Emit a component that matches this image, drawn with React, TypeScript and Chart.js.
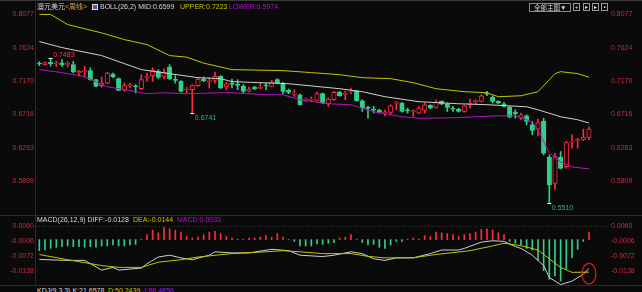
import React, { useEffect, useRef } from "react";
import { Chart, registerables } from "chart.js";
Chart.register(...registerables);

// ---------- DATA ----------
const OPEN = [
  0.7412, 0.7389, 0.7426, 0.7403, 0.7417, 0.7398, 0.7394, 0.7280, 0.7298, 0.7312,
  0.7189, 0.7107, 0.7143, 0.7266, 0.7203, 0.7052, 0.7107, 0.7103, 0.7066, 0.7216,
  0.7244, 0.7303, 0.7225, 0.7362, 0.7194, 0.7166, 0.7048, 0.7052, 0.7107, 0.7198,
  0.7162, 0.7180, 0.7235, 0.7089, 0.7134, 0.7125, 0.7098, 0.7030, 0.7084, 0.7071,
  0.7112, 0.7098, 0.7189, 0.7143, 0.7043, 0.6993, 0.6984, 0.6911, 0.6911, 0.6907,
  0.6998, 0.6861, 0.6916, 0.7016, 0.6989, 0.7025, 0.7030, 0.6902, 0.6806, 0.6784,
  0.6770, 0.6738, 0.6743, 0.6870, 0.6870, 0.6775, 0.6752, 0.6734, 0.6770, 0.6838,
  0.6811, 0.6893, 0.6857, 0.6797, 0.6788, 0.6756, 0.6852, 0.6889, 0.6893, 0.7002,
  0.6952, 0.6893, 0.6861, 0.6816, 0.6743, 0.6665, 0.6697, 0.6574, 0.6515, 0.6620,
  0.6133, 0.5777, 0.6133, 0.6005, 0.6338, 0.6360, 0.6369, 0.6401,
];
const HIGH = [
  0.7435, 0.7430, 0.7483, 0.7440, 0.7462, 0.7435, 0.7440, 0.7317, 0.7371, 0.7349,
  0.7198, 0.7225, 0.7289, 0.7280, 0.7212, 0.7143, 0.7143, 0.7121, 0.7257, 0.7280,
  0.7349, 0.7326, 0.7335, 0.7394, 0.7244, 0.7175, 0.7084, 0.7121, 0.7212, 0.7225,
  0.7212, 0.7294, 0.7244, 0.7153, 0.7198, 0.7189, 0.7121, 0.7089, 0.7098, 0.7143,
  0.7143, 0.7180, 0.7203, 0.7153, 0.7062, 0.7052, 0.6993, 0.6939, 0.6952, 0.7016,
  0.7007, 0.6939, 0.7030, 0.7030, 0.7030, 0.7075, 0.7043, 0.6916, 0.6825, 0.6825,
  0.6788, 0.6779, 0.6848, 0.6893, 0.6879, 0.6802, 0.6779, 0.6825, 0.6870, 0.6848,
  0.6916, 0.6902, 0.6870, 0.6825, 0.6802, 0.6843, 0.6925, 0.6916, 0.6984, 0.7030,
  0.6970, 0.6902, 0.6879, 0.6825, 0.6779, 0.6734, 0.6711, 0.6620, 0.6652, 0.6665,
  0.6164, 0.6187, 0.6210, 0.6347, 0.6438, 0.6392, 0.6515, 0.6542,
];
const LOW = [
  0.7380, 0.7385, 0.7371, 0.7367, 0.7371, 0.7362, 0.7280, 0.7235, 0.7225, 0.7180,
  0.7089, 0.7084, 0.7134, 0.7216, 0.7039, 0.7030, 0.7075, 0.7007, 0.7052, 0.7166,
  0.7166, 0.7203, 0.7198, 0.7189, 0.7143, 0.7021, 0.7007, 0.6741, 0.7098, 0.7162,
  0.7075, 0.7143, 0.7066, 0.7052, 0.7075, 0.7052, 0.7007, 0.7021, 0.7052, 0.7062,
  0.7052, 0.7089, 0.7134, 0.6998, 0.6998, 0.6961, 0.6843, 0.6893, 0.6889, 0.6898,
  0.6861, 0.6825, 0.6907, 0.6961, 0.6916, 0.6998, 0.6893, 0.6756, 0.6665, 0.6734,
  0.6734, 0.6697, 0.6711, 0.6779, 0.6747, 0.6734, 0.6688, 0.6725, 0.6734, 0.6793,
  0.6802, 0.6848, 0.6756, 0.6756, 0.6747, 0.6747, 0.6802, 0.6861, 0.6884, 0.6970,
  0.6870, 0.6861, 0.6816, 0.6670, 0.6665, 0.6643, 0.6574, 0.6438, 0.6424, 0.6164,
  0.5510, 0.5695, 0.5973, 0.5982, 0.6256, 0.6256, 0.6360, 0.6369,
];
const CLOSE = [
  0.7403, 0.7421, 0.7408, 0.7412, 0.7389, 0.7408, 0.7294, 0.7303, 0.7307, 0.7189,
  0.7098, 0.7143, 0.7280, 0.7225, 0.7043, 0.7107, 0.7116, 0.7093, 0.7189, 0.7225,
  0.7317, 0.7221, 0.7289, 0.7198, 0.7180, 0.7030, 0.7057, 0.7107, 0.7198, 0.7171,
  0.7175, 0.7235, 0.7075, 0.7134, 0.7125, 0.7112, 0.7030, 0.7062, 0.7062, 0.7080,
  0.7103, 0.7157, 0.7143, 0.7030, 0.7016, 0.7002, 0.6848, 0.6920, 0.6920, 0.6998,
  0.6870, 0.6925, 0.7016, 0.6970, 0.6998, 0.7034, 0.6902, 0.6802, 0.6797, 0.6775,
  0.6743, 0.6747, 0.6834, 0.6879, 0.6756, 0.6766, 0.6761, 0.6802, 0.6848, 0.6802,
  0.6884, 0.6857, 0.6811, 0.6788, 0.6756, 0.6834, 0.6861, 0.6898, 0.6970, 0.6993,
  0.6893, 0.6870, 0.6825, 0.6679, 0.6725, 0.6711, 0.6620, 0.6497, 0.6606, 0.6187,
  0.5755, 0.6142, 0.5982, 0.6333, 0.6351, 0.6374, 0.6406, 0.6515,
];

// Bollinger bands: [candle index, value]
const BOLL_UPPER: [number, number][] = [
  [0, 0.8077], [2, 0.8077], [5, 0.7940], [11, 0.7826], [15, 0.7735], [19, 0.7667],
  [23, 0.7517], [26, 0.7496], [29, 0.7414], [34, 0.7326], [43, 0.7312], [48, 0.7285],
  [53, 0.7257], [57, 0.7216], [62, 0.7203], [66, 0.7148], [70, 0.7066], [75, 0.7025],
  [79, 0.7011], [81, 0.6957], [85, 0.6970], [88, 0.7025], [90, 0.7189], [91, 0.7271],
  [92, 0.7298], [95, 0.7271], [97, 0.7223],
];
const BOLL_MID: [number, number][] = [
  [0, 0.7708], [4, 0.7626], [11, 0.7517], [18, 0.7326], [23, 0.7271], [28, 0.7216],
  [32, 0.7203], [34, 0.7162], [44, 0.7134], [53, 0.7066], [57, 0.7025], [61, 0.6957],
  [67, 0.6889], [74, 0.6861], [79, 0.6848], [86, 0.6820], [88, 0.6779], [92, 0.6684],
  [95, 0.6643], [97, 0.6599],
];
const BOLL_LOWER: [number, number][] = [
  [0, 0.7326], [4, 0.7285], [8, 0.7230], [12, 0.7093], [17, 0.7025], [19, 0.6998],
  [22, 0.7011], [26, 0.6998], [32, 0.7011], [34, 0.7011], [40, 0.6984], [43, 0.6984],
  [46, 0.6916], [51, 0.6861], [55, 0.6848], [59, 0.6752], [64, 0.6684], [67, 0.6663],
  [73, 0.6670], [81, 0.6697], [84, 0.6697], [87, 0.6615], [88, 0.6506], [90, 0.6192],
  [92, 0.6069], [94, 0.6000], [97, 0.5974],
];

const MACD_HIST = [
  -0.0049, -0.0046, -0.0039, -0.0034, -0.0031, -0.0028, -0.0031, -0.0031, -0.0034, -0.0031,
  -0.0034, -0.0028, -0.0028, -0.0024, -0.0028, -0.0028, -0.0024, -0.0021, 0.0002, 0.0022,
  0.0042, 0.0030, 0.0053, 0.0048, 0.0042, 0.0033, 0.0014, 0.0007, 0.0011, 0.0022,
  0.0033, 0.0037, 0.0027, 0.0014, 0.0007, 0.0002, 0.0002, 0.0007, 0.0007, 0.0011,
  0.0018, 0.0011, 0.0027, 0.0011, 0.0002, -0.0008, -0.0028, -0.0028, -0.0028, -0.0019,
  -0.0021, -0.0016, -0.0013, 0.0007, 0.0011, 0.0022, 0.0002, -0.0013, -0.0024, -0.0021,
  -0.0034, -0.0039, -0.0024, -0.0008, -0.0008, 0.0002, 0.0007, 0.0002, 0.0018, 0.0014,
  0.0033, 0.0030, 0.0027, 0.0022, 0.0014, 0.0022, 0.0027, 0.0033, 0.0045, 0.0048,
  0.0042, 0.0030, 0.0022, -0.0008, -0.0016, -0.0024, -0.0039, -0.0046, -0.0092, -0.0138,
  -0.0176, -0.0161, -0.0184, -0.0130, -0.0080, -0.0043, -0.0008, 0.0033,
];
const DIFF_LINE: [number, number][] = [
  [0, -0.0088], [5, -0.0092], [8, -0.0092], [11, -0.0135], [13, -0.0123], [14, -0.0135],
  [18, -0.0126], [19, -0.0107], [21, -0.0077], [23, -0.0069], [25, -0.0081], [27, -0.0089],
  [30, -0.0069], [31, -0.0054], [34, -0.0059], [37, -0.0059], [41, -0.0043], [44, -0.0049],
  [46, -0.0069], [50, -0.0075], [52, -0.0069], [55, -0.0054], [57, -0.0062], [59, -0.0085],
  [61, -0.0092], [63, -0.0081], [66, -0.0081], [69, -0.0062], [71, -0.0046], [74, -0.0046],
  [75, -0.0039], [78, -0.0011], [80, -0.0005], [82, -0.0008], [84, -0.0031], [85, -0.0039],
  [87, -0.0069], [89, -0.0115], [90, -0.0168], [92, -0.0199], [94, -0.0184], [96, -0.0153],
  [97, -0.0128],
];
const DEA_LINE: [number, number][] = [
  [0, -0.0066], [5, -0.0089], [11, -0.0115], [14, -0.0123], [18, -0.0123], [21, -0.0100],
  [25, -0.0089], [28, -0.0077], [34, -0.0062], [40, -0.0054], [43, -0.0049], [46, -0.0054],
  [50, -0.0062], [55, -0.0062], [58, -0.0074], [61, -0.0081], [66, -0.0080], [70, -0.0066],
  [76, -0.0049], [80, -0.0028], [82, -0.0016], [85, -0.0027], [88, -0.0046], [90, -0.0085],
  [92, -0.0123], [94, -0.0145], [97, -0.0144],
];

const PRICE_TICKS = [0.8077, 0.7624, 0.717, 0.6716, 0.6263, 0.5809];
const MACD_TICKS = [0.006, -0.0006, -0.0072, -0.0138];
const PRICE_RANGE = { min: 0.5346, max: 0.8274 };
const MACD_RANGE = { min: -0.0201, max: 0.0109 };
const EXTREME_MARKS = [
  { index: 2, kind: "high" },
  { index: 27, kind: "low" },
  { index: 90, kind: "low" },
];

// ---------- STYLE ----------
const BG = "#0a0a0a";
const UP = "#ff2b3e";
const DOWN = "#2fd08a";
const TICK_RED = "#d02a3a";
const MID_C = "#cfcfcf";
const UPPER_C = "#c4c400";
const LOWER_C = "#b414c4";
const FONT = '"Liberation Sans", Arial, "Noto Sans CJK SC", sans-serif';
const X_RANGE = { min: -0.76, max: 100.18 };

function yAxis(ticks: number[], range: { min: number; max: number }, position: "left" | "right", border: boolean, gridFn?: (v: number) => string) {
  return {
    type: "linear",
    position,
    min: range.min,
    max: range.max,
    afterBuildTicks: (s: any) => {
      s.ticks = ticks.map((v) => ({ value: v }));
    },
    afterFit: (s: any) => {
      s.width = 35;
      s.paddingTop = 0;
      s.paddingBottom = 0;
    },
    ticks: {
      color: TICK_RED,
      font: { family: FONT, size: 7 },
      padding: position === "left" ? 1 : 4,
      autoSkip: false,
      callback: (v: any) => Number(v).toFixed(4),
    },
    grid: gridFn
      ? { display: true, drawTicks: false, color: (c: any) => gridFn(c.tick ? c.tick.value : 0), lineWidth: 1 }
      : { display: false, drawTicks: false },
    border: gridFn
      ? { display: border, color: "#2a2a2a", dash: [1, 2] }
      : { display: border, color: "#2a2a2a" },
  } as any;
}

const xAxis = {
  type: "linear",
  min: X_RANGE.min,
  max: X_RANGE.max,
  offset: false,
  display: false,
  grid: { offset: false },
} as any;

const extremesPlugin = {
  id: "extremes",
  afterDatasetsDraw(chart: any) {
    const { ctx, scales } = chart;
    const x = scales.x;
    const y = scales.y;
    ctx.save();
    ctx.font = `7px ${FONT}`;
    ctx.textAlign = "left";
    ctx.textBaseline = "alphabetic";
    for (const m of EXTREME_MARKS) {
      const v = m.kind === "high" ? HIGH[m.index] : LOW[m.index];
      const px = x.getPixelForValue(m.index);
      const py = y.getPixelForValue(v);
      ctx.strokeStyle = "#f0f0f0";
      ctx.lineWidth = 1;
      ctx.beginPath();
      ctx.moveTo(px - 2, Math.round(py) + 0.5);
      ctx.lineTo(px + 2, Math.round(py) + 0.5);
      ctx.stroke();
      ctx.fillStyle = m.kind === "high" ? "#ff3a3a" : "#2fb872";
      ctx.fillText(v.toFixed(4), px + 2.5, m.kind === "high" ? py - 1.5 : py + 7);
    }
    ctx.restore();
  },
};

const ellipsePlugin = {
  id: "ellipseMark",
  afterDatasetsDraw(chart: any) {
    const { ctx, scales } = chart;
    const i = DEA_LINE[DEA_LINE.length - 1][0];
    const v = DEA_LINE[DEA_LINE.length - 1][1];
    const px = scales.x.getPixelForValue(i);
    const py = scales.y.getPixelForValue(v);
    ctx.save();
    ctx.strokeStyle = "#e01a1a";
    ctx.lineWidth = 1.2;
    ctx.beginPath();
    ctx.ellipse(px, py + 1.5, 7, 10.3, 0, 0, Math.PI * 2);
    ctx.stroke();
    ctx.restore();
  },
};

const lineDs = (pts: [number, number][], color: string) => ({
  type: "line",
  data: pts.map(([x, y]) => ({ x, y })),
  borderColor: color,
  borderWidth: 1,
  pointRadius: 0,
  tension: 0,
  order: 0,
});

function T(props: { x: number; y: number; color: string; children: any; size?: number }) {
  return (
    <div
      style={{
        position: "absolute",
        left: props.x,
        top: props.y,
        color: props.color,
        fontSize: props.size || 7,
        lineHeight: "8px",
        whiteSpace: "nowrap",
        fontFamily: FONT,
      }}
    >
      {props.children}
    </div>
  );
}

export default function App() {
  const mainRef = useRef<HTMLCanvasElement>(null);
  const macdRef = useRef<HTMLCanvasElement>(null);

  useEffect(() => {
    const idx = OPEN.map((_, i) => i);
    const isUp = (i: number) => CLOSE[i] >= OPEN[i];

    const main = new Chart(mainRef.current as HTMLCanvasElement, {
      type: "bar",
      data: {
        datasets: [
          {
            type: "bar",
            data: idx.map((i) => ({ x: i, y: [LOW[i], HIGH[i]] })),
            backgroundColor: idx.map((i) => (isUp(i) ? UP : DOWN)),
            borderWidth: 0,
            barThickness: 1,
            grouped: false,
            order: 3,
          } as any,
          {
            type: "bar",
            data: idx.map((i) => ({ x: i, y: [OPEN[i], CLOSE[i]] })),
            backgroundColor: idx.map((i) => (isUp(i) ? BG : DOWN)),
            borderColor: idx.map((i) => (isUp(i) ? UP : DOWN)),
            borderWidth: 1,
            borderSkipped: false,
            barThickness: 4.5,
            minBarLength: 1,
            grouped: false,
            order: 2,
          } as any,
          lineDs(BOLL_UPPER, UPPER_C) as any,
          lineDs(BOLL_MID, MID_C) as any,
          lineDs(BOLL_LOWER, LOWER_C) as any,
        ],
      },
      options: {
        responsive: false,
        maintainAspectRatio: false,
        animation: false,
        events: [],
        layout: { padding: 0 },
        plugins: { legend: { display: false }, tooltip: { enabled: false } },
        scales: {
          x: xAxis,
          y: yAxis(PRICE_TICKS, PRICE_RANGE, "left", true),
          y2: yAxis(PRICE_TICKS, PRICE_RANGE, "right", false),
        },
      },
      plugins: [extremesPlugin],
    });

    const macd = new Chart(macdRef.current as HTMLCanvasElement, {
      type: "bar",
      data: {
        datasets: [
          {
            type: "bar",
            data: MACD_HIST.map((v, i) => ({ x: i, y: v })),
            backgroundColor: MACD_HIST.map((v) => (v >= 0 ? UP : DOWN)),
            borderWidth: 0,
            barThickness: 1,
            grouped: false,
            order: 2,
          } as any,
          lineDs(DEA_LINE, UPPER_C) as any,
          lineDs(DIFF_LINE, MID_C) as any,
        ],
      },
      options: {
        responsive: false,
        maintainAspectRatio: false,
        animation: false,
        events: [],
        layout: { padding: 0 },
        plugins: { legend: { display: false }, tooltip: { enabled: false } },
        scales: {
          x: xAxis,
          y: yAxis(MACD_TICKS, MACD_RANGE, "left", true, (v) => (Math.abs(v - 0.006) < 1e-9 ? "#3a3a3a" : "rgba(0,0,0,0)")),
          y2: yAxis(MACD_TICKS, MACD_RANGE, "right", false),
        },
      },
      plugins: [ellipsePlugin],
    });

    return () => {
      main.destroy();
      macd.destroy();
    };
  }, []);

  const iconBox = (x: number, ch: string) => (
    <div
      style={{
        position: "absolute",
        left: x,
        top: 3,
        width: 7,
        height: 8,
        border: "1px solid #9a9a9a",
        boxSizing: "border-box",
        color: "#e0e0e0",
        fontSize: 6,
        lineHeight: "6px",
        textAlign: "center",
        fontFamily: FONT,
      }}
    >
      {ch}
    </div>
  );

  return (
    <div
      style={{
        position: "fixed",
        left: 0,
        top: 0,
        width: 642,
        height: 292,
        background: BG,
        overflow: "hidden",
      }}
    >
      <div style={{ position: "absolute", left: 0, top: 0, width: 642, height: 1, background: "#3c3c3c" }} />
      <canvas ref={mainRef} width={642} height={215} style={{ position: "absolute", left: 0, top: 0 }} />
      <canvas ref={macdRef} width={642} height={70} style={{ position: "absolute", left: 0, top: 215 }} />
      <div style={{ position: "absolute", left: 0, top: 215, width: 642, height: 1, background: "#2c2c2c" }} />
      <div style={{ position: "absolute", left: 0, top: 285, width: 642, height: 1, background: "#2c2c2c" }} />

      {/* main header */}
      <T x={37} y={3} color="#d8d8d8">
        澳元美元<span style={{ color: "#e0a040" }}>&lt;周线&gt;</span>
      </T>
      <div
        style={{
          position: "absolute",
          left: 92,
          top: 4,
          width: 6,
          height: 6,
          border: "1px solid #e0e0e0",
          boxSizing: "border-box",
          background: "linear-gradient(135deg, #d83030 50%, #3060d0 50%)",
        }}
      />
      <T x={100} y={3} color="#d8d8d8">BOLL(26,2) MID:0.6599</T>
      <T x={180} y={3} color={UPPER_C}>UPPER:0.7223</T>
      <T x={229} y={3} color={LOWER_C}>LOWER:0.5974</T>

      {/* toolbar */}
      <div
        style={{
          position: "absolute",
          left: 529,
          top: 3,
          width: 42,
          height: 9,
          border: "1px solid #8a8a8a",
          boxSizing: "border-box",
          color: "#d8d8d8",
          fontSize: 6.5,
          lineHeight: "7px",
          paddingLeft: 4,
          fontFamily: FONT,
          whiteSpace: "nowrap",
        }}
      >
        全部主图▼
      </div>
      {iconBox(573, "+")}
      {iconBox(583, "▸")}
      {iconBox(592, "▸")}
      {iconBox(601, "▪")}

      {/* MACD header */}
      <T x={37} y={216} color="#d8d8d8">MACD(26,12,9) DIFF:-0.0128</T>
      <T x={133} y={216} color={UPPER_C}>DEA:-0.0144</T>
      <T x={177} y={216} color={LOWER_C}>MACD:0.0033</T>

      {/* KDJ header (cut off) */}
      <T x={37} y={287} color="#d8d8d8">KDJ(9,3,3) K:21.6578</T>
      <T x={108} y={287} color={UPPER_C}>D:50.2439</T>
      <T x={143} y={287} color={LOWER_C}>J:88.4856</T>
    </div>
  );
}
